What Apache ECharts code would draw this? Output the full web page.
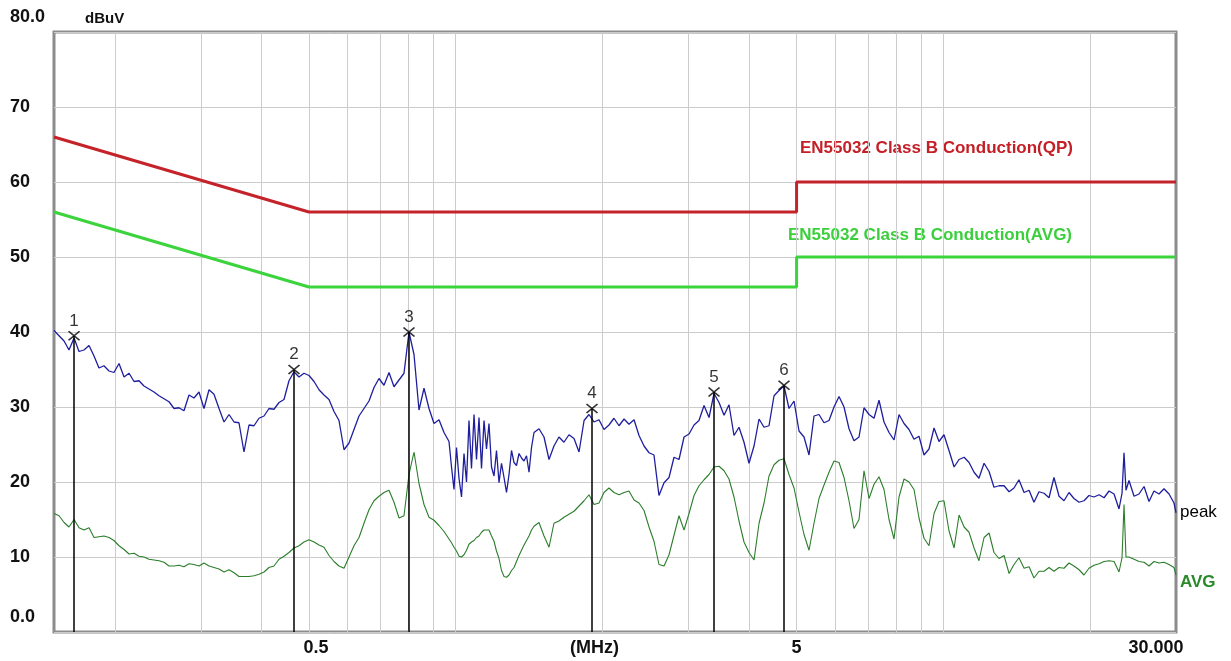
<!DOCTYPE html>
<html>
<head>
<meta charset="utf-8">
<script src="https://cdn.jsdelivr.net/npm/echarts@6/dist/echarts.min.js"></script>
<style>
html,body{margin:0;padding:0;background:#fff}
#chart{width:1231px;height:661px}
</style>
</head>
<body>
<div id="chart"></div>
<script>
// sweep frequencies (MHz), shared by both traces
var freqMHz = [
  0.150,0.1536,0.1573,0.1610,0.1649,0.1688,0.1728,0.1770,0.1812,0.1855,
  0.1899,0.1945,0.1991,0.2039,0.2088,0.2138,0.2189,0.2241,0.2294,0.2349,
  0.2405,0.2463,0.2522,0.2582,0.2644,0.2707,0.2771,0.2838,0.2905,0.2975,
  0.3046,0.3119,0.3193,0.3270,0.3348,0.3428,0.3510,0.3593,0.3679,0.3767,
  0.3857,0.3949,0.4044,0.4140,0.4239,0.4341,0.4444,0.4550,0.4659,0.4770,
  0.4884,0.5001,0.5121,0.5243,0.5368,0.5496,0.5628,0.5762,0.5900,0.6041,
  0.6185,0.6333,0.6484,0.6639,0.6798,0.6960,0.7126,0.7297,0.7471,0.7650,
  0.7832,0.8019,0.8211,0.8407,0.8608,0.8814,0.9024,0.9240,0.9461,
  0.9687,0.9802,0.9918,1.0036,1.0155,1.0276,1.0398,1.0521,1.0646,1.0772,
  1.0901,1.1030,1.1161,1.1294,1.1428,1.1564,1.1701,1.1840,1.1980,1.2122,
  1.2267,1.2413,1.2560,1.2709,1.2860,1.3013,1.3167,1.3323,1.3482,1.3642,
  1.3804,1.3968,1.4134,1.4302,1.4471,
  1.4817,1.5171,1.5534,
  1.590,1.628,1.667,1.707,1.748,1.790,1.833,1.876,1.921,1.967,
  2.014,2.062,2.111,2.162,2.214,2.266,2.321,2.376,2.433,2.491,
  2.550,2.611,2.674,2.738,2.803,2.870,2.939,3.009,3.081,3.154,
  3.230,3.307,3.386,3.467,3.550,3.634,3.721,3.810,3.901,3.994,
  4.090,4.188,4.288,4.390,4.495,4.602,4.712,4.825,4.940,5.058,
  5.179,5.303,5.429,5.559,5.692,5.828,5.967,6.110,6.256,6.405,
  6.558,6.715,6.875,7.040,7.208,7.380,7.556,7.737,7.922,8.111,
  8.305,8.503,8.706,8.914,9.127,9.345,9.569,9.797,10.03,10.27,
  10.52,10.77,11.03,11.29,11.56,11.83,12.12,12.41,12.70,13.01,
  13.32,13.64,13.96,14.29,14.64,14.99,15.34,15.71,16.09,16.47,
  16.86,17.27,17.68,18.10,18.53,18.98,19.43,19.89,20.37,20.86,
  21.36,21.87,22.39,22.92,23.25,23.47,23.69,24.03,24.61,25.19,
  25.80,26.41,27.04,27.69,28.35,29.03,29.72,30.00
];

// peak detector trace (dBuV)
var peakDb = [
  40.2,39.5,38.8,37.6,39.2,37.4,37.6,38.2,36.8,35.2,
  35.5,34.8,34.6,35.8,34.0,34.5,33.4,33.5,32.8,32.4,
  32.0,31.5,31.1,30.7,29.8,29.9,29.5,31.6,31.2,32.0,
  29.8,32.3,31.7,29.8,28.0,29.0,28.0,27.9,24.0,27.6,
  27.5,28.5,28.8,29.8,29.7,30.6,31.0,33.5,34.7,34.0,
  34.5,34.2,33.4,32.3,31.6,31.0,29.4,28.2,24.3,25.2,
  27.0,28.8,29.8,30.8,32.6,33.8,32.9,34.6,32.7,33.6,
  34.5,40.0,37.0,29.6,32.5,29.8,27.8,28.3,26.6,
  25.4,22.0,19.0,24.6,20.5,18.0,23.8,20.0,28.2,21.8,
  29.0,23.0,28.6,21.8,28.2,24.4,27.8,22.0,20.8,24.2,
  19.9,22.5,20.6,18.6,21.0,24.2,22.6,22.2,23.8,23.2,
  22.8,23.5,21.3,24.6,26.6,
  27.1,26.0,23.0,
  24.8,26.0,25.3,26.3,25.8,24.0,28.2,29.0,28.0,28.3,
  27.0,27.6,28.5,27.5,28.4,27.7,28.3,26.2,24.8,23.9,
  23.6,18.2,19.9,20.6,23.3,23.0,26.0,26.4,27.6,28.2,
  30.2,28.6,31.8,30.6,28.9,30.3,26.2,27.3,25.3,22.5,
  24.8,28.4,27.3,27.5,31.5,32.2,32.8,29.8,30.8,26.8,
  26.0,23.6,28.8,29.0,27.9,28.2,30.0,31.4,30.0,27.1,
  25.5,26.0,29.9,29.0,28.5,30.9,28.0,26.6,25.6,29.0,
  27.8,27.0,25.7,26.1,23.6,24.4,27.2,25.4,26.3,24.2,
  22.0,23.0,23.3,22.6,21.3,20.5,22.5,21.4,19.3,19.5,
  19.5,18.7,19.2,20.3,18.6,18.9,17.3,18.7,18.5,17.9,
  20.6,18.1,17.5,18.6,17.8,17.3,17.5,18.2,18.0,18.3,
  17.9,18.8,18.4,16.4,18.5,23.9,18.9,20.2,18.1,18.4,
  19.4,17.4,18.8,18.4,19.1,18.4,17.2,15.9
];

// average detector trace (dBuV)
var avgDb = [
  15.8,15.5,14.6,14.0,15.0,13.9,13.6,13.9,12.6,12.7,
  12.8,12.6,12.2,11.5,11.0,10.4,10.5,10.1,10.0,9.7,
  9.6,9.5,9.3,8.8,8.8,8.9,8.7,9.1,9.0,8.8,
  9.2,8.8,8.6,8.4,8.0,8.3,7.9,7.4,7.4,7.4,
  7.5,7.7,8.0,8.6,8.8,9.7,10.1,10.6,11.2,11.5,
  12.0,12.3,12.0,11.6,11.3,10.2,9.4,8.8,8.5,10.0,
  11.5,12.6,14.5,16.3,17.5,18.1,18.6,18.9,17.3,15.2,
  15.5,21.0,24.0,19.8,17.0,15.3,14.9,14.2,13.4,
  12.4,11.9,11.3,10.8,10.1,10.0,10.3,10.9,11.7,12.0,
  12.2,12.6,12.8,13.3,13.6,13.6,13.6,12.8,12.1,10.8,
  9.8,8.2,7.4,7.3,7.6,8.2,8.6,9.4,10.2,10.9,
  11.6,12.2,12.8,13.6,14.1,
  14.6,12.8,11.3,
  14.5,14.8,15.3,15.7,16.1,16.8,17.5,18.3,17.0,17.2,
  18.6,19.2,18.6,18.3,18.6,18.8,17.6,17.2,16.2,14.0,
  12.1,9.0,8.8,10.3,12.9,15.5,13.6,15.8,18.2,19.5,
  20.3,21.0,22.0,22.1,21.5,20.4,18.0,14.8,12.0,10.6,
  9.6,14.5,17.2,20.8,22.3,22.9,23.1,21.0,19.2,16.0,
  13.0,10.9,14.5,17.8,19.6,21.3,22.8,22.6,20.6,17.5,
  13.8,15.0,21.5,17.8,19.7,20.7,19.0,15.0,12.4,18.0,
  20.4,20.0,19.0,15.2,12.5,11.5,15.8,17.4,17.5,13.5,
  11.2,15.6,14.0,13.3,11.2,9.5,12.6,13.2,10.6,9.8,
  10.2,7.8,9.0,9.9,8.5,8.7,7.2,8.1,8.1,8.6,
  8.1,8.6,8.5,9.2,8.8,8.3,7.6,8.5,8.9,9.1,
  9.4,9.5,9.4,8.0,9.9,17.0,10.0,10.0,9.7,9.4,
  9.3,8.8,9.4,9.2,9.3,9.0,8.6,7.6
];

// EN55032 class B limits
var limitFreq = [0.15, 0.5, 5, 5, 30];
var qpLimit = [66, 56, 56, 60, 60];
var avgLimit = [56, 46, 46, 50, 50];

// markers
var markerNo = ['1', '2', '3', '4', '5', '6'];
var markerFreq = [0.1649, 0.4659, 0.8019, 1.903, 3.386, 4.712];
var markerDb = [39.5, 35.0, 40.0, 29.8, 32.0, 32.9];

// axis ticks / labels
var gridFreq = [0.2, 0.3, 0.4, 0.5, 0.6, 0.7, 0.8, 0.9, 1, 2, 3, 4, 5, 6, 7, 8, 9, 10, 20];
var xLabelValues = [0.5, 2, 5, 30];
var xLabelText = ['0.5', '(MHz)', '5', '30.000'];
var xLabelRich = ['a', 'b', '', 'c'];

var FONT = '"Liberation Sans", Arial, sans-serif';

function zip(xs, ys) {
    return xs.map(function (x, i) { return [x, ys[i]]; });
}

var chart = echarts.init(document.getElementById('chart'));
var option = {
    animation: false,
    backgroundColor: '#ffffff',
    grid: {
        left: 54, right: 55, top: 32, bottom: 29,
        show: true,
        borderColor: '#8c8c8c',
        borderWidth: 3,
        outerBoundsMode: 'none'
    },
    xAxis: {
        type: 'log',
        logBase: 10,
        min: 0.15,
        max: 30,
        axisLine: { show: false },
        axisTick: { show: false, customValues: gridFreq },
        minorTick: { show: false },
        splitLine: { show: true, lineStyle: { color: '#cccccc', width: 1 } },
        axisLabel: {
            customValues: xLabelValues,
            margin: 7,
            color: '#111',
            fontFamily: FONT,
            fontSize: 18,
            fontWeight: 'bold',
            formatter: function (v) {
                for (var i = 0; i < xLabelValues.length; i++) {
                    if (Math.abs(xLabelValues[i] - v) / xLabelValues[i] < 1e-4) {
                        return xLabelRich[i] ? '{' + xLabelRich[i] + '|' + xLabelText[i] + '}' : xLabelText[i];
                    }
                }
                return '';
            },
            rich: {
                a: { padding: [0, 0, 0, 14], fontFamily: FONT, fontSize: 18, fontWeight: 'bold', color: '#111' },
                b: { padding: [0, 16, 0, 0], fontFamily: FONT, fontSize: 18, fontWeight: 'bold', color: '#111' },
                c: { padding: [0, 40, 0, 0], fontFamily: FONT, fontSize: 18, fontWeight: 'bold', color: '#111' }
            }
        }
    },
    yAxis: {
        type: 'value',
        min: 0,
        max: 80,
        interval: 10,
        name: 'dBuV',
        nameLocation: 'end',
        nameGap: 6,
        nameTextStyle: { align: 'left', padding: [0, 0, 0, 31], color: '#111', fontFamily: FONT, fontSize: 15, fontWeight: 'bold' },
        axisLine: { show: false },
        axisTick: { show: false },
        splitLine: { show: true, lineStyle: { color: '#cccccc', width: 1 } },
        axisLabel: {
            align: 'left',
            margin: 44,
            color: '#111',
            fontFamily: FONT,
            fontSize: 18,
            fontWeight: 'bold',
            formatter: function (v) {
                if (v === 0) return '{e|0.0}';
                if (v === 80) return '{e|80.0}';
                return String(v);
            },
            rich: {
                e: { padding: [0, 0, 30, 0], fontFamily: FONT, fontSize: 18, fontWeight: 'bold', color: '#111' }
            }
        }
    },
    graphic: [
        {
            type: 'text', left: 800, top: 140, silent: true,
            style: { text: 'EN55032 Class B Conduction(QP)', fill: '#c41e26', font: 'bold 17px ' + FONT }
        },
        {
            type: 'text', left: 788, top: 227, silent: true,
            style: { text: 'EN55032 Class B Conduction(AVG)', fill: '#3ccf3c', font: 'bold 17px ' + FONT }
        }
    ],
    series: [
        {
            name: 'QP limit',
            type: 'line',
            data: zip(limitFreq, qpLimit),
            symbol: 'none',
            lineStyle: { color: '#c4232a', width: 3 },
            z: 3
        },
        {
            name: 'AVG limit',
            type: 'line',
            data: zip(limitFreq, avgLimit),
            symbol: 'none',
            lineStyle: { color: '#3cd43c', width: 3 },
            z: 3
        },
        {
            name: 'peak',
            type: 'line',
            data: zip(freqMHz, peakDb),
            symbol: 'none',
            lineStyle: { color: '#1f1f9e', width: 1.3 },
            endLabel: { show: true, formatter: 'peak', color: '#000', fontFamily: FONT, fontSize: 17, distance: 4 },
            z: 4
        },
        {
            name: 'AVG',
            type: 'line',
            data: zip(freqMHz, avgDb),
            symbol: 'none',
            lineStyle: { color: '#2b7d2b', width: 1.1 },
            endLabel: { show: true, formatter: 'AVG', color: '#2a8a2a', fontFamily: FONT, fontSize: 17, fontWeight: 'bold', distance: 4, offset: [0, 7] },
            z: 4
        },
        {
            name: 'markers',
            type: 'scatter',
            data: zip(markerFreq, markerDb),
            symbol: 'path://M0 0L10 8M10 0L0 8',
            symbolSize: [11, 9],
            itemStyle: { color: 'rgba(0,0,0,0)', borderColor: '#000', borderWidth: 1.6 },
            label: {
                show: true,
                position: 'top',
                distance: 1,
                color: '#000',
                fontFamily: FONT,
                fontSize: 17,
                formatter: function (p) { return markerNo[p.dataIndex]; }
            },
            markLine: {
                silent: true,
                symbol: ['none', 'none'],
                label: { show: false },
                lineStyle: { color: '#000', width: 1.5, type: 'solid' },
                data: markerFreq.map(function (f, i) {
                    return [{ coord: [f, 0] }, { coord: [f, markerDb[i]] }];
                })
            },
            z: 6
        }
    ]
};
chart.setOption(option);
</script>
</body>
</html>
